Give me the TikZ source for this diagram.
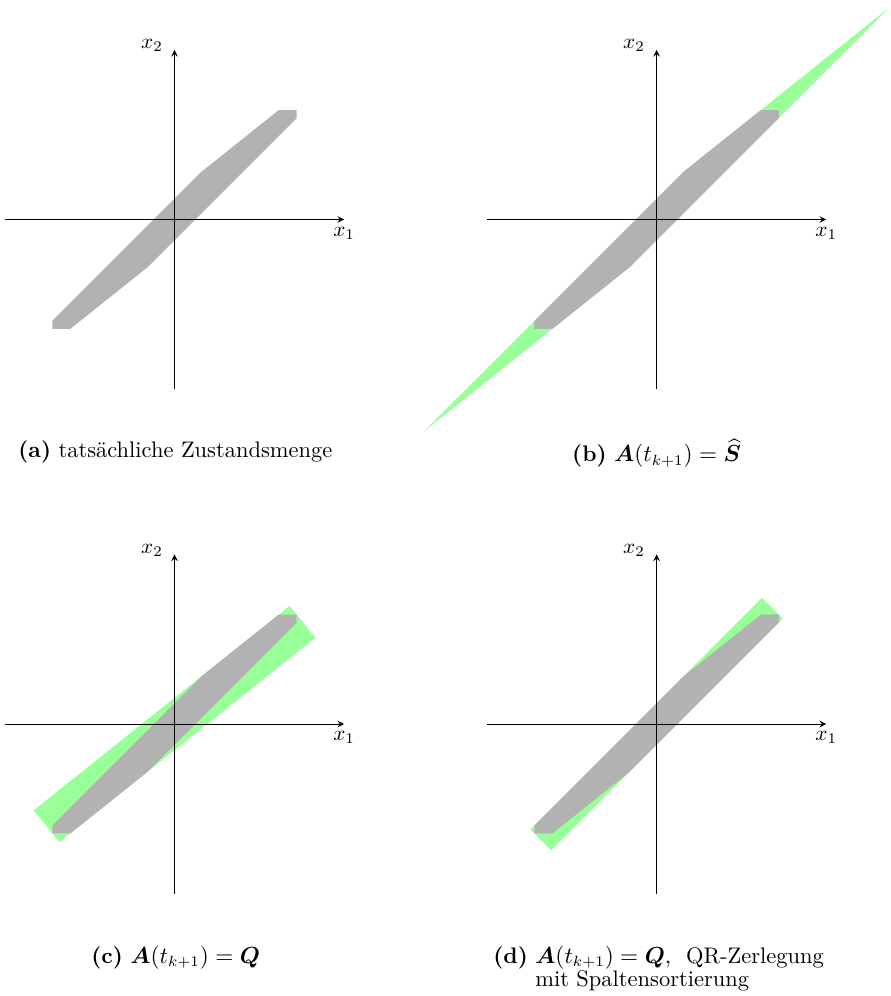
\documentclass[tikz,border=0pt]{standalone}
\usepackage{fontspec}
\usepackage{amsmath, amssymb}
\usepackage{bm}
\usepackage{tikz}
\usepackage{xcolor}

\tikzset{
  achse/.style={-stealth, thin},
  zonotop/.style={fill=gray!60},
  huelle/.style={fill=green!40},
  unterschrift/.style={anchor=base, inner sep=0pt, font=\fontsize{10.6pt}{11.1pt}\selectfont},
}

% tatsaechliche Zustandsmenge (Zonotop mit vier Generatoren)
\newcommand{\zustandsmenge}{%
  \fill[zonotop] (2.882,2.580) -- (2.458,2.580) -- (0.632,1.123) -- (-2.882,-2.392)
    -- (-2.882,-2.580) -- (-2.458,-2.580) -- (-0.632,-1.123) -- (2.882,2.392) -- cycle;}

% Koordinatenachsen mit Namen
\newcommand{\achsen}[1]{%
  \coordinate (#1-links) at (-4,0);
  \coordinate (#1-rechts) at (4,0);
  \coordinate (#1-unten) at (0,-4);
  \coordinate (#1-oben) at (0,4);
  \draw[achse] (#1-links) -- (#1-rechts);
  \draw[achse] (#1-unten) -- (#1-oben);
  \node[below] (#1-x1) at (#1-rechts) {$x_1$};
  \node[left, xshift=-2pt, yshift=2pt] (#1-x2) at (#1-oben) {$x_2$};}

\begin{document}
\begin{tikzpicture}[x=20pt, y=20pt]
  \useasboundingbox (-4.116,-18.314) rectangle (16.875,5.177);
  % (a) tatsaechliche Zustandsmenge
  \begin{scope}
    \zustandsmenge
    \achsen{a}
    \node[unterschrift] (a-cap) at (0.02,-5.61) {\textbf{(a)} tatsächliche Zustandsmenge};
  \end{scope}
  % (b) A = S
  \begin{scope}[shift={(11.37,0)}]
    \fill[huelle] (5.500,5.009) -- (0.632,1.123) -- (-5.500,-5.009) -- (-0.632,-1.123) -- cycle;
    \zustandsmenge
    \achsen{b}
    \node[unterschrift] (b-cap) at (0,-5.71) {\textbf{(b)}~$\bm{A}(t_{k+1}) = \widehat{\bm{S}}$};
  \end{scope}
  % (c) A = Q
  \begin{scope}[shift={(0,-11.90)}]
    \fill[huelle] (2.717,2.787) -- (3.319,2.033) -- (-2.717,-2.787) -- (-3.319,-2.033) -- cycle;
    \zustandsmenge
    \achsen{c}
    \node[unterschrift] (c-cap) at (0.03,-5.64) {\textbf{(c)}~$\bm{A}(t_{k+1}) = \bm{Q}$};
  \end{scope}
  % (d) A = Q mit Spaltensortierung
  \begin{scope}[shift={(11.37,-11.90)}]
    \fill[huelle] (2.486,2.976) -- (2.976,2.486) -- (-2.486,-2.976) -- (-2.976,-2.486) -- cycle;
    \zustandsmenge
    \achsen{d}
    \node[unterschrift, anchor=base west] (d-cap) at (-3.86,-5.64)
      {\textbf{(d)}~\begin{tabular}[t]{@{}l@{}}$\bm{A}(t_{k+1}) = \bm{Q}$,\ \ QR-Zerlegung\\
       mit Spaltensortierung\end{tabular}};
  \end{scope}
\end{tikzpicture}
\end{document}
